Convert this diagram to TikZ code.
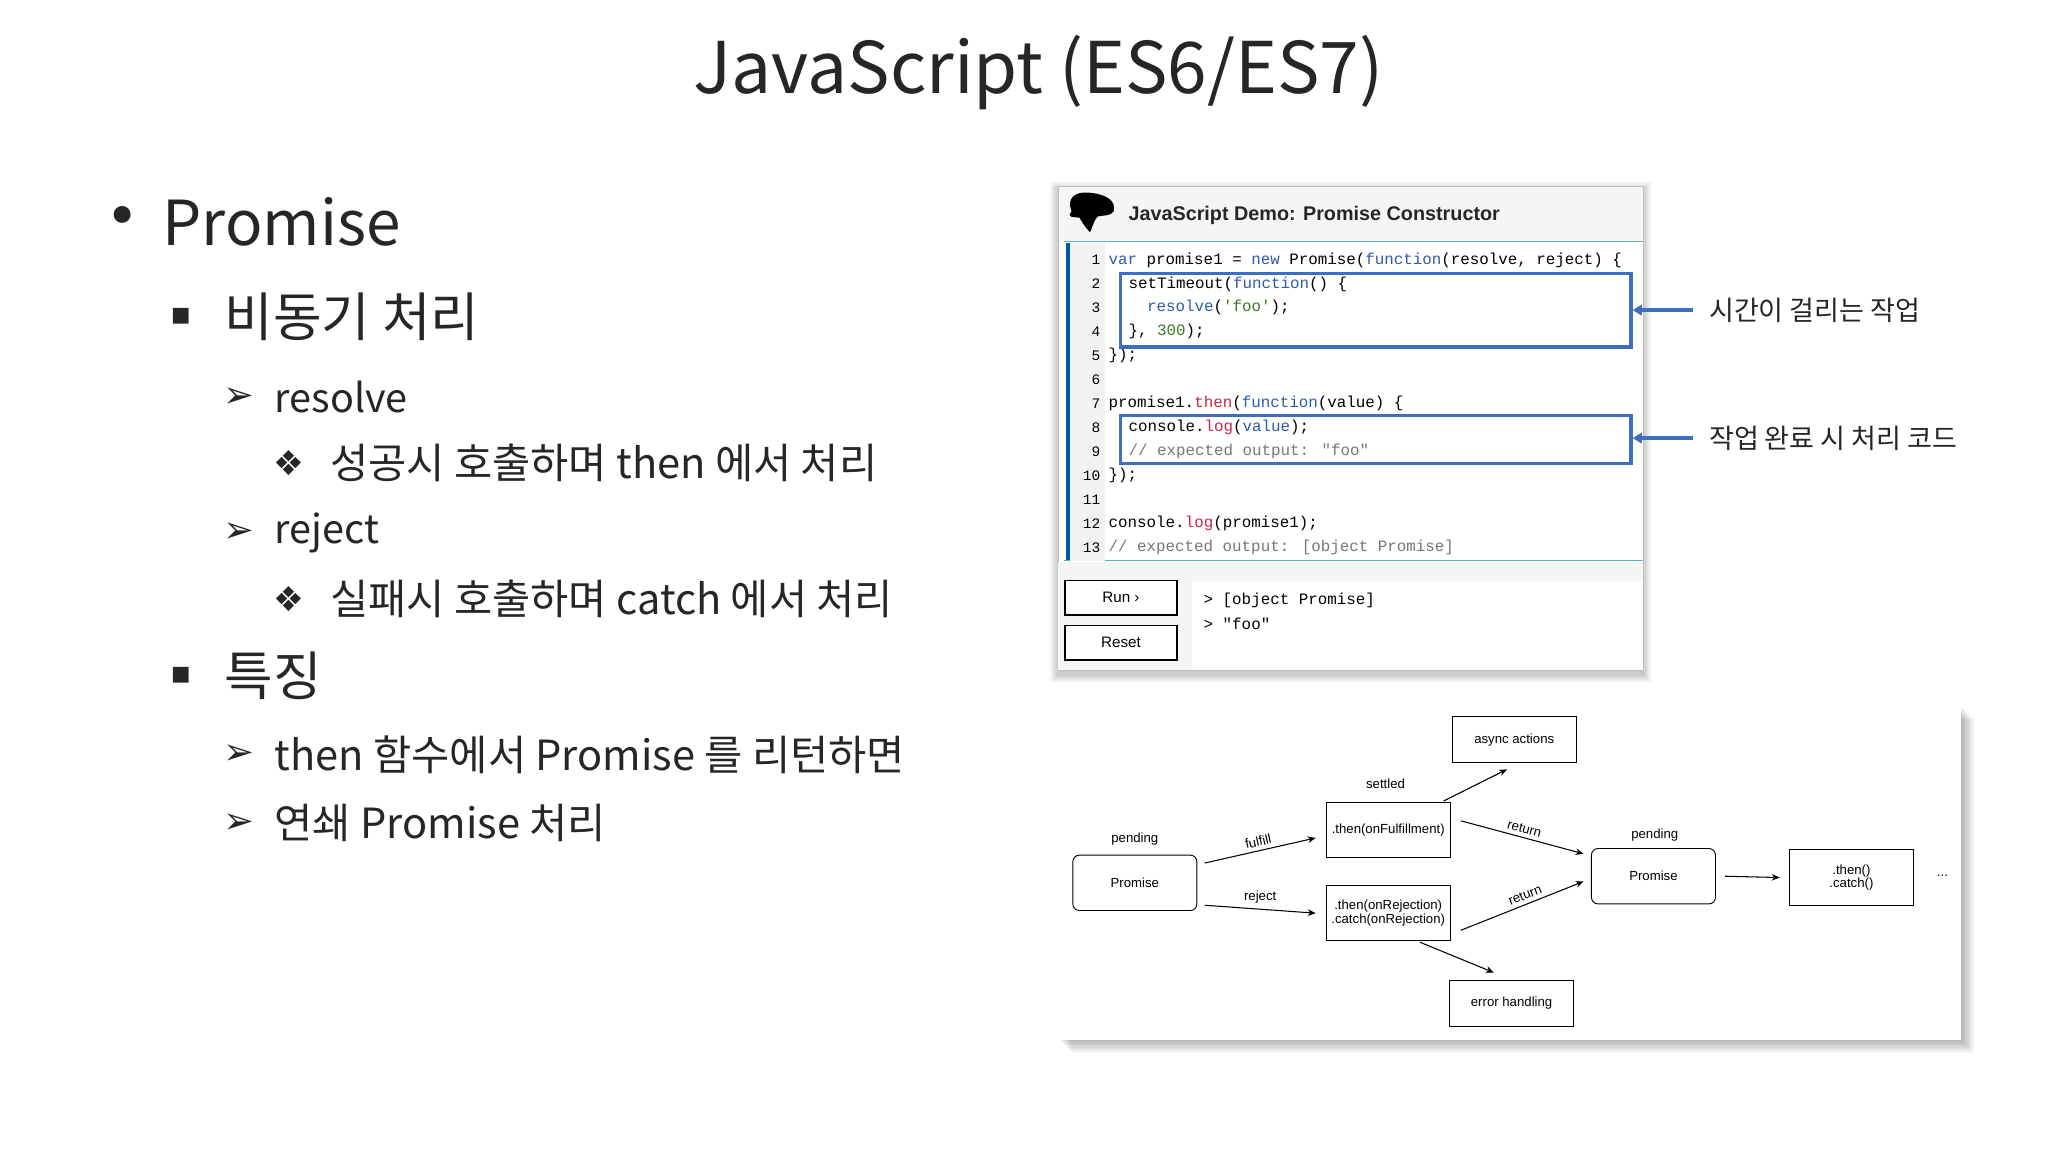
\documentclass[tikz,border=0pt]{standalone}
\usepackage{fontspec}
\setmainfont{Noto Sans CJK KR}
\newfontfamily\kr{Noto Sans CJK KR}
\newfontfamily\sym{DejaVu Sans}
\newfontfamily\cm{Liberation Mono}
\newfontfamily\ls{Liberation Sans}
\usetikzlibrary{arrows.meta}
\definecolor{kw}{HTML}{2E5AAC}
\definecolor{rd}{HTML}{C7254E}
\definecolor{gr}{HTML}{3B7A22}
\definecolor{cmt}{HTML}{777777}
\definecolor{hl}{HTML}{3F6DC2}
\begin{document}
\begin{tikzpicture}[x=1pt,y=-1pt,
  tx/.style={anchor=west,inner sep=0pt,text=black!85},
  cl/.style={anchor=west,inner sep=0pt,font=\cm\fontsize{12}{13}\selectfont},
  ln/.style={anchor=east,inner sep=0pt,font=\cm\fontsize{11}{12}\selectfont},
  dg/.style={font=\ls\fontsize{10}{11}\selectfont,inner sep=0pt},
  bx/.style={draw,line width=0.7pt,minimum width=94pt,minimum height=42pt,inner sep=1pt,font=\ls\fontsize{10}{11}\selectfont,align=center},
  rbx/.style={bx,rounded corners=5pt},
  ar/.style={-{Stealth[length=6pt,width=5pt]},line width=0.8pt},
  har/.style={-{Triangle[length=7pt,width=8pt]},line width=2.5pt,hl}]
\useasboundingbox (0,0) rectangle (1552,873);
\fill[white] (0,0) rectangle (1552,873);
% title
\node[inner sep=0pt,text=black!85,font=\fontsize{54}{60}\selectfont] (title) at (787,55) {JavaScript (ES6/ES7)};
% bullets
\node[tx,font=\sym\fontsize{44}{48}\selectfont] (b1) at (80,168) {•};
\node[tx,font=\fontsize{47}{52}\selectfont] (t1) at (123,168) {Promise};
\node[tx,font=\sym\fontsize{24}{26}\selectfont] (b2) at (129,240) {▪};
\node[tx,font=\fontsize{40}{44}\selectfont] (t2) at (170,240) {비동기 처리};
\node[tx,font=\sym\fontsize{28}{30}\selectfont] (b3) at (169,301) {➢};
\node[tx,font=\fontsize{30}{34}\selectfont] (t3) at (208,301) {resolve};
\node[tx,font=\sym\fontsize{26}{28}\selectfont] (b4) at (207,351) {❖};
\node[tx,font=\fontsize{31.5}{34}\selectfont] (t4) at (250,351) {성공시 호출하며 then 에서 처리};
\node[tx,font=\sym\fontsize{28}{30}\selectfont] (b5) at (169,404) {➢};
\node[tx,font=\fontsize{30}{34}\selectfont] (t5) at (208,404) {reject};
\node[tx,font=\sym\fontsize{26}{28}\selectfont] (b6) at (207,454) {❖};
\node[tx,font=\fontsize{31.5}{34}\selectfont] (t6) at (250,454) {실패시 호출하며 catch 에서 처리};
\node[tx,font=\sym\fontsize{24}{26}\selectfont] (b7) at (129,512) {▪};
\node[tx,font=\fontsize{40}{44}\selectfont] (t7) at (170,512) {특징};
\node[tx,font=\sym\fontsize{28}{30}\selectfont] (b8) at (169,572) {➢};
\node[tx,font=\fontsize{31.5}{34}\selectfont] (t8) at (208,572) {then 함수에서 Promise 를 리턴하면};
\node[tx,font=\sym\fontsize{28}{30}\selectfont] (b9) at (169,624) {➢};
\node[tx,font=\fontsize{31.5}{34}\selectfont] (t9) at (208,624) {연쇄 Promise 처리};
% code panel shadow
\foreach \i in {1,...,6} \fill[black,opacity=0.035] (802-\i,141-\i+3) rectangle (1245+\i,508+\i+3);
\fill[white] (802,141) rectangle (1245,508);
\fill[black!4] (802,141) rectangle (1245,183);
\draw[black!25] (802,141) rectangle (1245,508);
% dino icon
\fill[black] (812,160) .. controls (808,150) and (815,145) .. (825,146) .. controls (838,147) and (846,152) .. (844,160) .. controls (842,164) and (836,163) .. (832,164) .. controls (828,168) and (828,173) .. (826,176) .. controls (822,172) and (820,168) .. (818,165) .. controls (814,164) and (808,166) .. (812,160) -- cycle;
\node[tx,font=\ls\bfseries\fontsize{15}{16}\selectfont,text=black!85] (ptitle) at (855,163) {JavaScript Demo: Promise Constructor};
\draw[teal!60,line width=1pt] (806,183) -- (1245,183);
\fill[teal!70!blue] (808,184) rectangle (811,425);
\draw[teal!60,line width=1pt] (806,425) -- (1245,425);
\fill[black!5] (811,184) rectangle (837,425);
\fill[black!4] (802,426) rectangle (1245,440);
\fill[black!4] (802,440) rectangle (903,508);
% line numbers
\foreach \n in {1,...,13} \node[ln] (n\n) at (834,197+18.15*\n-18.15) {\n};
\node[cl] (c1) at (840,197) {\textcolor{kw}{var} promise1 = \textcolor{kw}{new} Promise(\textcolor{kw}{function}(resolve, reject) \{};
\node[cl] (c2) at (855,215.2) {setTimeout(\textcolor{kw}{function}() \{};
\node[cl] (c3) at (869,233.3) {\textcolor{kw}{resolve}(\textcolor{gr}{'foo'});};
\node[cl] (c4) at (855,251.5) {\}, \textcolor{gr}{300});};
\node[cl] (c5) at (840,269.6) {\});};
\node[cl] (c7) at (840,305.9) {promise1.\textcolor{rd}{then}(\textcolor{kw}{function}(value) \{};
\node[cl] (c8) at (855,324.1) {console.\textcolor{rd}{log}(\textcolor{kw}{value});};
\node[cl,text=cmt] (c9) at (855,342.2) {// expected output: "foo"};
\node[cl] (c10) at (840,360.4) {\});};
\node[cl] (c12) at (840,396.7) {console.\textcolor{rd}{log}(promise1);};
\node[cl,text=cmt] (c13) at (840,414.8) {// expected output: [object Promise]};
% highlight boxes
\node[draw=hl,line width=2.5pt,minimum width=387pt,minimum height=56pt,inner sep=0pt] (h1) at (1042.5,235) {};
\node[draw=hl,line width=2.5pt,minimum width=387pt,minimum height=36pt,inner sep=0pt] (h2) at (1042.5,333) {};
\coordinate (a1) at (1283,235);
\coordinate (a2) at (1283,332);
\draw[har] (a1) -- (h1.east);
\draw[har] (a2) -- (h2.east |- a2);
\node[tx,font=\fontsize{20.5}{24}\selectfont] (l1) at (1295,235) {시간이 걸리는 작업};
\node[tx,font=\fontsize{20.5}{24}\selectfont] (l2) at (1295,332) {작업 완료 시 처리 코드};
% buttons & output
\node[draw,fill=white,line width=1.2pt,minimum width=85pt,minimum height=26pt,font=\ls\fontsize{11.5}{13}\selectfont] (run) at (849.5,453) {Run ›};
\node[draw,fill=white,line width=1.2pt,minimum width=85pt,minimum height=26pt,font=\ls\fontsize{11.5}{13}\selectfont] (reset) at (849.5,487) {Reset};
\node[cl] (o1) at (912,455) {> [object Promise]};
\node[cl] (o2) at (912,473) {> "foo"};
% diagram panel shadow
\foreach \i in {1,...,10} \fill[black,opacity=0.03] (802+\i,535+\i) rectangle (1486+\i,788+\i);
\fill[white] (802,535) rectangle (1486,788);
% diagram
\node[rbx] (p1) at (860,669) {Promise};
\node[dg] (pd1) at (860,636) {pending};
\node[bx] (th) at (1052,629) {.then(onFulfillment)};
\node[dg] (st) at (1050,594) {settled};
\node[bx,minimum height=35pt] (as) at (1147.5,560.5) {async actions};
\node[bx] (ca) at (1052,692) {.then(onRejection)\\[-1pt].catch(onRejection)};
\node[bx,minimum height=35pt] (er) at (1145.5,760.5) {error handling};
\node[rbx] (p2) at (1253,664) {Promise};
\node[dg] (pd2) at (1254,633) {pending};
\node[bx] (tc) at (1403,665) {.then()\\[-1pt].catch()};
\node[dg] (dots) at (1472,664) {...};
\coordinate (f0) at (913,654); \coordinate (f1) at (997,635);
\coordinate (r0) at (913,686); \coordinate (r1) at (997,692);
\coordinate (s0) at (1094,607); \coordinate (s1) at (1142,583);
\coordinate (u0) at (1107,622); \coordinate (u1) at (1200,647);
\coordinate (v0) at (1107,705); \coordinate (v1) at (1200,668);
\coordinate (e0) at (1076,714); \coordinate (e1) at (1132,737);
\draw[ar] (f0) -- node[dg,above,sloped,yshift=3pt] {fulfill} (f1);
\draw[ar] (r0) -- node[dg,above,yshift=4pt] {reject} (r1);
\draw[ar] (s0) -- (s1);
\draw[ar] (u0) -- node[dg,above,sloped,yshift=3pt] {return} (u1);
\draw[ar] (v0) -- node[dg,above,sloped,pos=0.55,yshift=3pt] {return} (v1);
\draw[ar] (e0) -- (e1);
\draw[ar] (p2.east) ++(7,0) -- ([xshift=-7pt]tc.west);
\end{tikzpicture}
\end{document}
